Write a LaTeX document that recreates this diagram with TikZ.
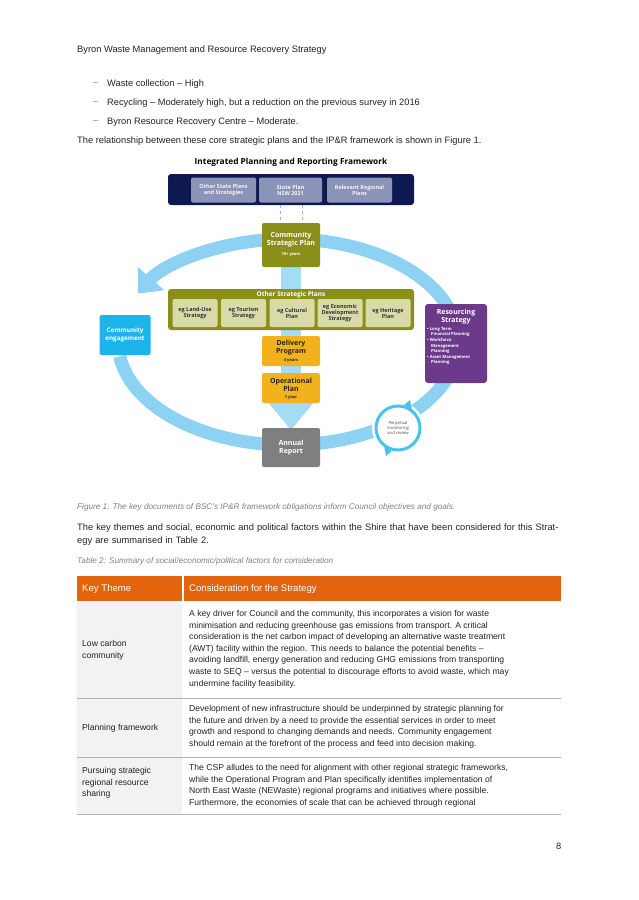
\documentclass[tikz,border=0pt]{standalone}
\usepackage{fontspec}
\setmainfont{Liberation Sans}
\newfontfamily\dfont{Open Sans}
\usetikzlibrary{arrows.meta}
\definecolor{navy}{HTML}{0E1A4F}
\definecolor{slate}{HTML}{8C93B8}
\definecolor{olive}{HTML}{8A8F1A}
\definecolor{cream}{HTML}{D8DBA8}
\definecolor{amber}{HTML}{F2B21B}
\definecolor{ring}{HTML}{8DD2F2}
\definecolor{cyanbox}{HTML}{1CB4EA}
\definecolor{purp}{HTML}{6B3A8A}
\definecolor{grayb}{HTML}{7F7F7F}
\definecolor{orng}{HTML}{E2640C}
\definecolor{rowg}{HTML}{F2F2F2}
\definecolor{txt}{HTML}{222222}
\tikzset{
 body/.style={anchor=west,font=\fontsize{9.3}{11}\selectfont,text=txt,inner sep=0},
 dbox/.style={rounded corners=2pt,inner sep=1pt,align=center,font=\dfont\bfseries\fontsize{5.5}{6}\selectfont},
 bbox/.style={rounded corners=2pt,inner sep=1pt,align=center,font=\dfont\bfseries\fontsize{7}{8}\selectfont},
 yrs/.style={inner sep=0,font=\dfont\bfseries\fontsize{4}{5}\selectfont},
 cell/.style={anchor=north west,inner sep=0,align=left,text=txt,font=\fontsize{8.6}{11.6}\selectfont},
 sep/.style={draw=gray!60,line width=0.8pt}
}
\begin{document}
\begin{tikzpicture}[x=1pt,y=-1pt]
\useasboundingbox (0,0) rectangle (638,900);
\node[body] (hdr) at (77,50) {Byron Waste Management and Resource Recovery Strategy};
\node[body,text=gray] (d1) at (93,84) {--};
\node[body] (b1) at (107,84) {Waste collection -- High};
\node[body,text=gray] (d2) at (93,103) {--};
\node[body] (b2) at (107,103) {Recycling -- Moderately high, but a reduction on the previous survey in 2016};
\node[body,text=gray] (d3) at (93,122) {--};
\node[body] (b3) at (107,122) {Byron Resource Recovery Centre -- Moderate.};
\node[body] (rel) at (77,141) {The relationship between these core strategic plans and the IP\&R framework is shown in Figure 1.};
\node[font=\dfont\bfseries\fontsize{8.3}{9}\selectfont] (title) at (291,162) {Integrated Planning and Reporting Framework};
% ring
\draw[ring,line width=13pt,-{Triangle[length=20pt,width=34pt]}] (288,342) ++(172:170 and 103) arc[start angle=172,end angle=-152,x radius=170,y radius=103];
% vertical band
\fill[ring!80] (281,262) rectangle (301,398);
\fill[ring!80] (263,396) -- (319,396) -- (291,430) -- cycle;
% top box
\node[fill=navy,rounded corners=3pt,minimum width=246,minimum height=31] (top) at (291,189.5) {};
\node[dbox,fill=slate,text=white!90!slate,minimum width=65,minimum height=25] (osp) at (223.5,190) {Other State Plans\\and Strategies};
\node[dbox,fill=slate,text=white!90!slate,minimum width=63,minimum height=25] (sp) at (290.5,190) {State Plan\\NSW 2021};
\node[dbox,fill=slate,text=white!90!slate,minimum width=65,minimum height=25] (rrp) at (359.5,190) {Relevant Regional\\Plans};
\draw[ring!90!blue,dashed] (280,205) -- (280,224);
\draw[ring!90!blue,dashed] (302,205) -- (302,224);
\node[fill=olive,rounded corners=2pt,minimum width=58,minimum height=44] (csp) at (291,245) {};
\node[bbox,text=white] (cspt) at (291,240) {Community\\Strategic Plan};
\node[yrs,text=white] (cspy) at (291,255) {10+ years};
\node[fill=olive,rounded corners=3pt,minimum width=246,minimum height=41] (osps) at (291,309.5) {};
\node[font=\dfont\bfseries\fontsize{6.5}{7}\selectfont,text=white] (ospl) at (291,294.5) {Other Strategic Plans};
\node[dbox,fill=cream,text=black!80,minimum width=45,minimum height=28] (p1) at (195,313) {eg Land-Use\\Strategy};
\node[dbox,fill=cream,text=black!80,minimum width=45,minimum height=28] (p2) at (243.5,313) {eg Tourism\\Strategy};
\node[dbox,fill=cream,text=black!80,minimum width=45,minimum height=28] (p3) at (292,313) {eg Cultural\\Plan};
\node[dbox,fill=cream,text=black!80,minimum width=45,minimum height=28] (p4) at (340,313) {eg Economic\\Development\\Strategy};
\node[dbox,fill=cream,text=black!80,minimum width=45,minimum height=28] (p5) at (388,313) {eg Heritage\\Plan};
\node[fill=amber,rounded corners=2pt,minimum width=58,minimum height=30] (dp) at (291,351) {};
\node[bbox,text=black!85] (dpt) at (291,348) {Delivery\\Program};
\node[yrs,text=black!85] (dpy) at (291,361) {4 years};
\node[fill=amber,rounded corners=2pt,minimum width=58,minimum height=30] (op) at (291,388) {};
\node[bbox,text=black!85] (opt) at (291,385) {Operational\\Plan};
\node[yrs,text=black!85] (opy) at (291,398) {1 year};
\node[bbox,fill=grayb,text=white,minimum width=58,minimum height=39] (ar) at (291,447.5) {Annual\\Report};
\node[bbox,fill=cyanbox,text=white,minimum width=51,minimum height=40,font=\dfont\bfseries\fontsize{6.3}{7.5}\selectfont] (ce) at (125,335) {Community\\engagement};
\node[rounded corners=3pt,fill=purp,minimum width=62,minimum height=79] (rs) at (456,343.5) {};
\node[font=\dfont\bfseries\fontsize{7}{8}\selectfont,text=white,align=center] (rst) at (456,317) {Resourcing\\Strategy};
\node[anchor=north west,font=\dfont\bfseries\fontsize{4.2}{5.6}\selectfont,text=white,align=left,inner sep=0] (rsl) at (427,327) {• Long Term\\\hspace*{4pt}Financial Planning\\• Workforce\\\hspace*{4pt}Management\\\hspace*{4pt}Planning\\• Asset Management\\\hspace*{4pt}Planning};
% perpetual
\node[circle,fill=white,minimum size=52] (pm) at (398,428) {};
\draw[cyanbox!80,line width=3pt] (pm.center) circle (22);
\fill[cyanbox!80] (404,405) -- (410,400) -- (412,410) -- cycle;
\fill[cyanbox!80] (392,451) -- (386,456) -- (384,446) -- cycle;
\node[font=\dfont\fontsize{4.2}{5}\selectfont,text=black!70,align=center] (pmt) at (398,428) {Perpetual\\monitoring\\and review};
% caption
\node[body,font=\itshape\fontsize{8.2}{10}\selectfont,text=gray] (cap) at (77,507) {Figure 1: The key documents of BSC's IP\&R framework obligations inform Council objectives and goals.};
\node[anchor=north west,inner sep=0,text width=490,align=left,text=txt,font=\fontsize{9.3}{12.5}\selectfont] (par) at (77,524) {The key themes and social, economic and political factors within the Shire that have been considered for this Strategy are summarised in Table 2.};
\node[body,font=\itshape\fontsize{8.2}{10}\selectfont,text=gray] (tcap) at (77,561) {Table 2: Summary of social/economic/political factors for consideration};
% table
\fill[orng] (77,576) rectangle (182,601);
\fill[orng] (184,576) rectangle (561,601);
\fill[rowg] (77,602) rectangle (182,814);
\node[body,text=white,font=\fontsize{9.6}{11}\selectfont] (h1) at (82,589) {Key Theme};
\node[body,text=white,font=\fontsize{9.6}{11}\selectfont] (h2) at (189,589) {Consideration for the Strategy};
\node[cell] (c1) at (189,610) {A key driver for Council and the community, this incorporates a vision for waste\\minimisation and reducing greenhouse gas emissions from transport. A critical\\consideration is the net carbon impact of developing an alternative waste treatment\\(AWT) facility within the region. This needs to balance the potential benefits --\\avoiding landfill, energy generation and reducing GHG emissions from transporting\\waste to SEQ -- versus the potential to discourage efforts to avoid waste, which may\\undermine facility feasibility.};
\node[cell,anchor=west] (k1) at (82,650) {Low carbon\\community};
\draw[sep] (77,698.5) -- (561,698.5);
\node[cell] (c2) at (189,705) {Development of new infrastructure should be underpinned by strategic planning for\\the future and driven by a need to provide the essential services in order to meet\\growth and respond to changing demands and needs. Community engagement\\should remain at the forefront of the process and feed into decision making.};
\node[cell,anchor=west] (k2) at (82,728) {Planning framework};
\draw[sep] (77,757.5) -- (561,757.5);
\node[cell] (c3) at (189,764) {The CSP alludes to the need for alignment with other regional strategic frameworks,\\while the Operational Program and Plan specifically identifies implementation of\\North East Waste (NEWaste) regional programs and initiatives where possible.\\Furthermore, the economies of scale that can be achieved through regional};
\node[cell] (k3) at (82,767) {Pursuing strategic\\regional resource\\sharing};
\draw[sep] (77,814.5) -- (561,814.5);
\node[body] (pg) at (556,846) {8};
\end{tikzpicture}
\end{document}
